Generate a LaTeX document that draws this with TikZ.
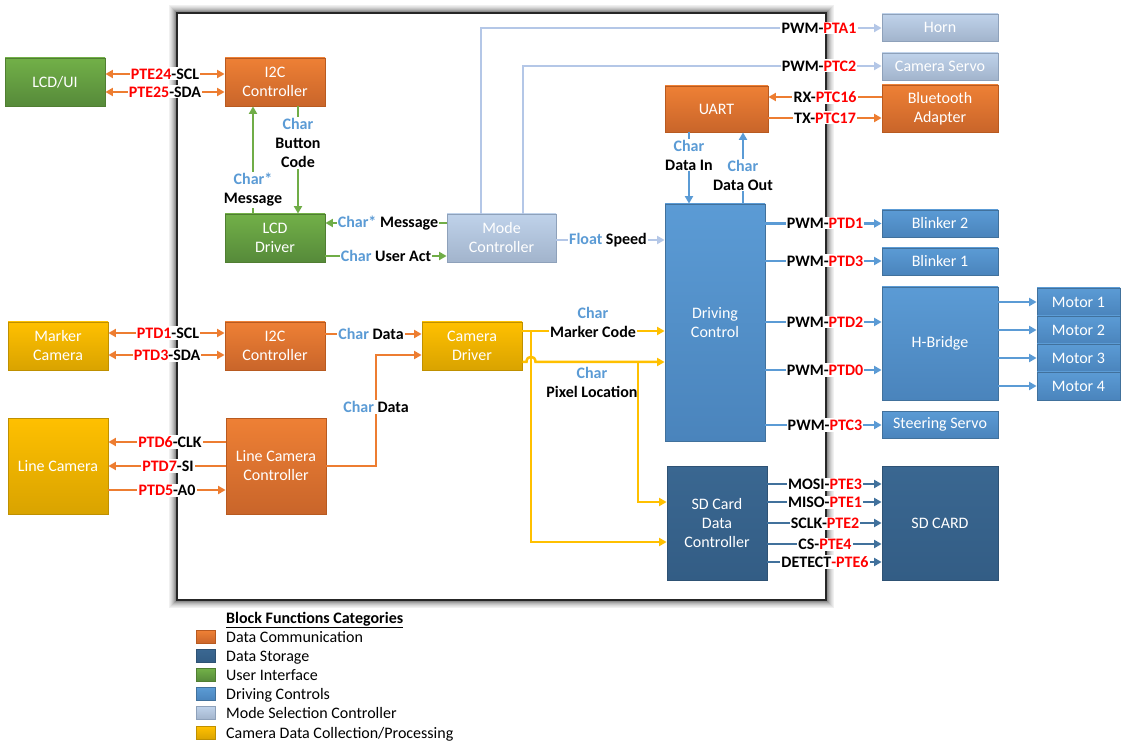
\documentclass[tikz,border=0pt]{standalone}
\usepackage{fontspec}
\setmainfont{Carlito}
\usetikzlibrary{arrows.meta}
\definecolor{orgT}{HTML}{EE8035}\definecolor{orgB}{HTML}{C9652A}\definecolor{orgD}{HTML}{B85A20}
\definecolor{grnT}{HTML}{72B048}\definecolor{grnB}{HTML}{568A3A}\definecolor{grnD}{HTML}{507E32}
\definecolor{ylwT}{HTML}{FFC000}\definecolor{ylwB}{HTML}{D9A300}\definecolor{ylwD}{HTML}{BF9000}
\definecolor{bluT}{HTML}{5B9BD5}\definecolor{bluB}{HTML}{4A84BC}\definecolor{bluD}{HTML}{41719C}
\definecolor{dbuT}{HTML}{3A6791}\definecolor{dbuB}{HTML}{335D85}\definecolor{dbuD}{HTML}{2E5274}
\definecolor{modT}{HTML}{BFD2EA}\definecolor{modB}{HTML}{A2B4CC}\definecolor{modD}{HTML}{8EA1BA}
\definecolor{orgA}{HTML}{ED7D31}\definecolor{grnA}{HTML}{70AD47}\definecolor{ylwA}{HTML}{FFC000}
\definecolor{bluA}{HTML}{5B9BD5}\definecolor{modA}{HTML}{B4C7E7}\definecolor{dbuA}{HTML}{41719C}
\definecolor{charC}{HTML}{5B9BD5}
\newcommand\fs{\fontsize{16}{19}\selectfont}
\newcommand\rd[1]{\textcolor{red}{#1}}
\newcommand\ch{\textcolor{charC}{Char}}
\newcommand\chs{\textcolor{charC}{Char*}}
\tikzset{
 blk/.style={draw=#1D, top color=#1T, bottom color=#1B, text=white, align=center,
   inner sep=0pt, line width=0.8pt, font=\fs},
 lbl/.style={font=\fs\bfseries, fill=white, inner sep=1.2pt, align=center},
 conn/.style={line width=2.5pt, draw=#1, -{Triangle[length=7.5pt,width=8pt]}},
 bconn/.style={line width=2.5pt, draw=#1, {Triangle[length=7.5pt,width=8pt]}-{Triangle[length=7.5pt,width=8pt]}},
 leg/.style={font=\fs, anchor=base west, inner sep=0pt},
 sw/.style={draw=#1D, top color=#1T, bottom color=#1B, minimum width=19, minimum height=13, inner sep=0pt, line width=0.5pt}
}
\begin{document}
\begin{tikzpicture}[x=1pt,y=-1pt]
\useasboundingbox (0,0) rectangle (1125,751);
% frame with glow
\foreach \k/\c in {7/6,6/10,5/15,4/21,3/28,2/36,1/45}{
  \draw[black!\c, line width=1.1pt] (177-\k,13-\k) rectangle (826+\k,600+\k);}
\draw[black!85, line width=1.3pt] (177,13) rectangle (826,600);

% boxes
\node[blk=grn, minimum width=100, minimum height=48] (lcdui) at (55,82) {LCD/UI};
\node[blk=org, minimum width=100, minimum height=48] (i2ca) at (275,82) {I2C\\Controller};
\node[blk=grn, minimum width=100, minimum height=48] (lcdd) at (275,238) {LCD\\Driver};
\node[blk=mod, minimum width=109, minimum height=48] (mode) at (501.5,238) {Mode\\Controller};
\node[blk=mod, minimum width=116, minimum height=27] (horn) at (940,27.5) {Horn};
\node[blk=mod, minimum width=116, minimum height=27] (cams) at (940,66.5) {Camera Servo};
\node[blk=org, minimum width=103, minimum height=46] (uart) at (716.5,109) {UART};
\node[blk=org, minimum width=116, minimum height=47] (bt) at (940,108.5) {Bluetooth\\Adapter};
\node[blk=blu, minimum width=100, minimum height=237] (dc) at (715,322.5) {Driving\\Control};
\node[blk=blu, minimum width=116, minimum height=27] (bl2) at (940,223.5) {Blinker 2};
\node[blk=blu, minimum width=116, minimum height=27] (bl1) at (940,261.5) {Blinker 1};
\node[blk=blu, minimum width=116, minimum height=113] (hb) at (940,343.5) {H-Bridge};
\node[blk=blu, minimum width=83, minimum height=28] (m1) at (1078.5,302) {Motor 1};
\node[blk=blu, minimum width=83, minimum height=28] (m2) at (1078.5,330) {Motor 2};
\node[blk=blu, minimum width=83, minimum height=28] (m3) at (1078.5,358) {Motor 3};
\node[blk=blu, minimum width=83, minimum height=28] (m4) at (1078.5,386) {Motor 4};
\node[blk=blu, minimum width=116, minimum height=27] (steer) at (940,424.5) {Steering Servo};
\node[blk=dbu, minimum width=116, minimum height=114] (sdcard) at (940,523) {SD CARD};
\node[blk=dbu, minimum width=100, minimum height=114] (sdc) at (717,523) {SD Card\\Data\\Controller};
\node[blk=ylw, minimum width=100, minimum height=48] (camd) at (472,346) {Camera\\Driver};
\node[blk=ylw, minimum width=100, minimum height=48] (mcam) at (58,346) {Marker\\Camera};
\node[blk=org, minimum width=100, minimum height=48] (i2cb) at (275,346) {I2C\\Controller};
\node[blk=ylw, minimum width=100, minimum height=96] (lcam) at (58,466) {Line Camera};
\node[blk=org, minimum width=100, minimum height=96] (lcc) at (276,466) {Line Camera\\Controller};

% connectors: orange
\draw[bconn=orgA] (lcdui.east |- 0,74) -- (i2ca.west |- 0,74);
\draw[bconn=orgA] (lcdui.east |- 0,92) -- (i2ca.west |- 0,92);
\draw[bconn=orgA] (mcam.east |- 0,333) -- (i2cb.west |- 0,333);
\draw[bconn=orgA] (mcam.east |- 0,355) -- (i2cb.west |- 0,355);
\draw[conn=orgA] (i2cb.east |- 0,334) -- (camd.west |- 0,334);
\coordinate (lb1) at (376,466);
\coordinate (lb2) at (376,355);
\draw[conn=orgA] (lcc.east |- lb1) -- (lb1) -- (lb2) -- (camd.west |- lb2);
\draw[conn=orgA] (lcc.west |- 0,442) -- (lcam.east |- 0,442);
\draw[conn=orgA] (lcc.west |- 0,466) -- (lcam.east |- 0,466);
\draw[conn=orgA] (lcam.east |- 0,490) -- (lcc.west |- 0,490);
\draw[conn=orgA] (bt.west |- 0,97) -- (uart.east |- 0,97);
\draw[conn=orgA] (uart.east |- 0,118) -- (bt.west |- 0,118);

% green
\draw[conn=grnA] (i2ca.south -| 298,0) -- (lcdd.north -| 298,0);
\draw[conn=grnA] (lcdd.north -| 253,0) -- (i2ca.south -| 253,0);
\draw[conn=grnA] (mode.west |- 0,223) -- (lcdd.east |- 0,223);
\draw[conn=grnA] (lcdd.east |- 0,256) -- (mode.west |- 0,256);

% mode (light)
\coordinate (h1) at (481,28);
\coordinate (h2) at (523,66);
\draw[conn=modA] (mode.north -| h1) -- (h1) -- (horn.west |- h1);
\draw[conn=modA] (mode.north -| h2) -- (h2) -- (cams.west |- h2);
\draw[conn=modA] (mode.east |- 0,240) -- (dc.west |- 0,240);

% blue
\draw[conn=bluA] (uart.south -| 689,0) -- (dc.north -| 689,0);
\draw[conn=bluA] (dc.north -| 743,0) -- (uart.south -| 743,0);
\draw[conn=bluA] (dc.east |- bl2.west) -- (bl2.west);
\draw[conn=bluA] (dc.east |- 0,261) -- (bl1.west |- 0,261);
\draw[conn=bluA] (dc.east |- 0,322) -- (hb.west |- 0,322);
\draw[conn=bluA] (dc.east |- 0,370) -- (hb.west |- 0,370);
\draw[conn=bluA] (dc.east |- 0,425) -- (steer.west |- 0,425);
\draw[conn=bluA] (hb.east |- m1.west) -- (m1.west);
\draw[conn=bluA] (hb.east |- m2.west) -- (m2.west);
\draw[conn=bluA] (hb.east |- m3.west) -- (m3.west);
\draw[conn=bluA] (hb.east |- m4.west) -- (m4.west);

% dark blue
\foreach \yy in {484,502,523,544,562}{
  \draw[conn=dbuA] (sdc.east |- 0,\yy) -- (sdcard.west |- 0,\yy);}

% yellow
\coordinate (y1) at (531,331);
\coordinate (y2) at (531,542);
\coordinate (y3) at (638,362);
\coordinate (y4) at (638,502);
\draw[conn=ylwA] (camd.east |- y1) -- (dc.west |- y1);
\draw[conn=ylwA] (y1) -- (y2) -- (sdc.west |- y2);
\draw[conn=ylwA] (camd.east |- y3) -- (526.5,362) .. controls (526.5,355) and (535.5,355) .. (535.5,362) -- (dc.west |- y3);
\draw[conn=ylwA] (y3) -- (y4) -- (sdc.west |- y4);

% labels
\node[lbl] (t1) at (165,74) {\rd{PTE24}-SCL};
\node[lbl] (t2) at (165,92) {\rd{PTE25}-SDA};
\node[lbl] (t3) at (298,143) {\ch\\Button\\Code};
\node[lbl] (t4) at (253,190) {\chs\\Message};
\node[lbl] (t5) at (388,223) {\chs{} Message};
\node[lbl] (t6) at (386,256) {\ch{} User Act};
\node[lbl] (t7) at (819,28) {PWM-\rd{PTA1}};
\node[lbl] (t8) at (819,66) {PWM-\rd{PTC2}};
\node[lbl] (t9) at (825,97) {RX-\rd{PTC16}};
\node[lbl] (t10) at (825,118) {TX-\rd{PTC17}};
\node[lbl] (t11) at (689,155) {\ch\\Data In};
\node[lbl] (t12) at (743,175) {\ch\\Data Out};
\node[lbl] (t13) at (608,240) {\textcolor{charC}{Float} Speed};
\node[lbl] (t14) at (825,223) {PWM-\rd{PTD1}};
\node[lbl] (t15) at (825,261) {PWM-\rd{PTD3}};
\node[lbl] (t16) at (825,322) {PWM-\rd{PTD2}};
\node[lbl] (t17) at (825,370) {PWM-\rd{PTD0}};
\node[lbl] (t18) at (825,425) {PWM-\rd{PTC3}};
\node[lbl] (t19) at (825,484) {MOSI-\rd{PTE3}};
\node[lbl] (t20) at (825,502) {MISO-\rd{PTE1}};
\node[lbl] (t21) at (825,523) {SCLK-\rd{PTE2}};
\node[lbl] (t22) at (825,544) {CS-\rd{PTE4}};
\node[lbl] (t23) at (825,562) {DETECT\rd{-PTE6}};
\node[lbl] (t24) at (168,333) {\rd{PTD1}-SCL};
\node[lbl] (t25) at (167,355) {\rd{PTD3}-SDA};
\node[lbl] (t26) at (371,334) {\ch{} Data};
\node[lbl] (t27) at (376,407) {\ch{} Data};
\node[lbl] (t28) at (170,442) {\rd{PTD6}-CLK};
\node[lbl] (t29) at (168,466) {\rd{PTD7}-SI};
\node[lbl] (t30) at (167,490) {\rd{PTD5}-A0};
\node[lbl] (t31) at (593,322) {\ch\\Marker Code};
\node[lbl, fill=none] (t32) at (592,382) {\ch\\Pixel Location};

% legend
\node[leg, font=\fs\bfseries] (lt) at (226,623.5) {\underline{Block Functions Categories}};
\node[sw=org] (s1) at (205.5,637) {}; \node[leg] (g1) at (226,642.5) {Data Communication};
\node[sw=dbu] (s2) at (205.5,656) {}; \node[leg] (g2) at (226,661.5) {Data Storage};
\node[sw=grn] (s3) at (205.5,675) {}; \node[leg] (g3) at (226,680.5) {User Interface};
\node[sw=blu] (s4) at (205.5,694) {}; \node[leg] (g4) at (226,699.5) {Driving Controls};
\node[sw=mod] (s5) at (205.5,713) {}; \node[leg] (g5) at (226,718.5) {Mode Selection Controller};
\node[sw=ylw] (s6) at (205.5,733) {}; \node[leg] (g6) at (226,738.5) {Camera Data Collection/Processing};
\end{tikzpicture}
\end{document}
